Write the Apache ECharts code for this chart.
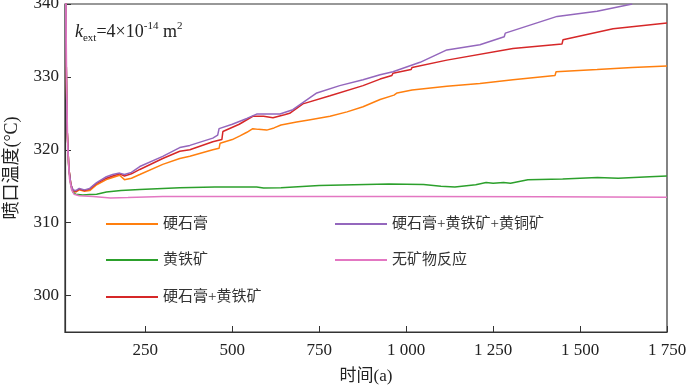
<!DOCTYPE html>
<html>
<head>
<meta charset="utf-8">
<script src="https://cdn.jsdelivr.net/npm/echarts@6/dist/echarts.min.js"></script>
<style>
  html, body { margin: 0; padding: 0; background: #fff; }
  #main { width: 700px; height: 385px; }
</style>
</head>
<body>
<div id="main"></div>
<script>
// 各曲线数据 [时间(a), 喷口温度(°C)]
const anhydrite = [[20, 352], [22, 334], [25, 323], [30, 317.5], [36, 315.2], [42, 314.4], [50, 314.2], [60, 314.5], [75, 314.3], [90, 314.4], [110, 315.2], [138, 315.9], [156, 316.2], [176, 316.5], [190, 315.9], [210, 316.1], [234, 316.6], [300, 318.0], [349, 318.8], [378, 319.1], [444, 320.0], [462, 320.2], [465, 320.9], [500, 321.4], [522, 321.9], [542, 322.4], [559, 322.9], [575, 322.8], [599, 322.7], [620, 323.0], [640, 323.4], [685, 323.8], [720, 324.1], [781, 324.6], [830, 325.2], [876, 325.9], [925, 326.9], [965, 327.5], [974, 327.8], [1017, 328.2], [1117, 328.7], [1212, 329.1], [1307, 329.6], [1428, 330.2], [1431, 330.7], [1549, 331.0], [1650, 331.3], [1750, 331.5]]
const pyrite = [[20, 352], [22, 334], [25, 323], [30, 317.3], [36, 315], [42, 314.2], [50, 313.9], [70, 313.8], [90, 313.85], [110, 313.9], [138, 314.2], [180, 314.4], [234, 314.55], [300, 314.7], [349, 314.8], [450, 314.9], [570, 314.9], [590, 314.75], [640, 314.8], [750, 315.1], [850, 315.2], [950, 315.3], [1050, 315.25], [1100, 315.0], [1140, 314.9], [1200, 315.2], [1230, 315.5], [1250, 315.4], [1280, 315.5], [1300, 315.4], [1350, 315.9], [1450, 316.0], [1550, 316.2], [1610, 316.1], [1700, 316.3], [1750, 316.4]]
const anhyPyrite = [[20, 352], [22, 334], [25, 323], [30, 317.5], [36, 315.2], [42, 314.4], [50, 314.3], [60, 314.6], [75, 314.4], [90, 314.6], [110, 315.4], [138, 316.1], [156, 316.4], [176, 316.7], [190, 316.4], [210, 316.7], [234, 317.3], [300, 318.8], [349, 319.8], [378, 320.0], [444, 321.1], [470, 321.4], [473, 322.5], [520, 323.5], [559, 324.6], [590, 324.6], [617, 324.4], [650, 324.8], [665, 325.0], [703, 326.3], [781, 327.4], [876, 328.8], [925, 329.7], [959, 330.2], [962, 330.5], [1014, 331.0], [1017, 331.3], [1117, 332.3], [1307, 333.9], [1448, 334.5], [1451, 335.1], [1595, 336.6], [1750, 337.4]]
const anhyPyriteChalco = [[20, 352], [22, 334], [25, 323], [30, 317.5], [36, 315.2], [42, 314.5], [50, 314.4], [60, 314.7], [75, 314.5], [90, 314.7], [110, 315.5], [138, 316.3], [156, 316.6], [176, 316.8], [190, 316.6], [210, 316.9], [234, 317.7], [300, 319.1], [349, 320.3], [378, 320.6], [444, 321.6], [458, 322.0], [462, 322.9], [500, 323.5], [542, 324.3], [570, 324.9], [637, 324.9], [674, 325.5], [743, 327.8], [809, 328.8], [876, 329.6], [925, 330.3], [962, 330.7], [1040, 332.0], [1117, 333.7], [1212, 334.4], [1282, 335.5], [1285, 336.0], [1434, 338.3], [1549, 339.0], [1650, 340.0]]
const noReaction = [[20, 355], [22, 338], [24, 328], [27, 320], [32, 316], [38, 314.5], [45, 313.9], [60, 313.7], [100, 313.6], [150, 313.4], [200, 313.45], [300, 313.6], [600, 313.6], [1000, 313.6], [1400, 313.55], [1750, 313.5]]

const xTicks = [250, 500, 750, 1000, 1250, 1500, 1750]
const yTicks = [300, 310, 320, 330, 340]

const fontFamily = '"Liberation Serif", "Noto Sans CJK SC", serif'

let chart = echarts.init(document.getElementById('main'))

// 每个图例单独放，方便定位
function oneLegend(name, left, top) {
  return {
    data: [name],
    left: left,
    top: top,
    icon: 'rect',
    itemWidth: 52,
    itemHeight: 2,
    itemGap: 0,
    selectedMode: false,
    textStyle: { fontFamily: fontFamily, fontSize: 15, color: '#333', lineHeight: 18 }
  }
}

function lineSeries(name, data, color) {
  return {
    name: name,
    type: 'line',
    data: data,
    showSymbol: false,
    symbol: 'none',
    clip: true,
    lineStyle: { color: color, width: 1.5 },
    itemStyle: { color: color },
    animation: false
  }
}

const option = {
  animation: false,
  grid: {
    left: 65, right: 33, top: 4, bottom: 53,
    containLabel: false, outerBoundsMode: 'none',
    show: true, borderColor: '#333', borderWidth: 1.2
  },
  legend: [
    oneLegend('硬石膏', 101, 210),
    oneLegend('黄铁矿', 101, 246),
    oneLegend('硬石膏+黄铁矿', 101, 283),
    oneLegend('硬石膏+黄铁矿+黄铜矿', 330, 210),
    oneLegend('无矿物反应', 330, 246)
  ],
  graphic: [{
    type: 'text',
    left: 75,
    top: 21,
    style: {
      text: '{k|k}{sub|ext}{n|=4×10}{sup|-14}{n| m}{sup|2}',
      fill: '#222',
      rich: {
        k: { fontFamily: fontFamily, fontSize: 18, fontStyle: 'italic', lineHeight: 23 },
        n: { fontFamily: fontFamily, fontSize: 18, lineHeight: 23 },
        sub: { fontFamily: fontFamily, fontSize: 11, verticalAlign: 'bottom', lineHeight: 23 },
        sup: { fontFamily: fontFamily, fontSize: 11, verticalAlign: 'top', lineHeight: 23 }
      }
    }
  }],
  xAxis: {
    type: 'value',
    min: 19,
    max: 1750,
    name: '时间(a)',
    nameLocation: 'middle',
    nameGap: 36,
    nameTextStyle: { fontFamily: fontFamily, fontSize: 17, color: '#222' },
    axisLine: { lineStyle: { color: '#333', width: 1.2 } },
    axisTick: { inside: true, length: 6, customValues: xTicks, lineStyle: { color: '#333' } },
    axisLabel: {
      customValues: xTicks,
      margin: 10,
      fontFamily: fontFamily,
      fontSize: 17,
      color: '#222',
      formatter: v => v >= 1000 ? Math.floor(v / 1000) + ' ' + String(v % 1000).padStart(3, '0') : String(v)
    },
    splitLine: { show: false }
  },
  yAxis: {
    type: 'value',
    min: 295,
    max: 340,
    name: '喷口温度(°C)',
    nameLocation: 'middle',
    nameGap: 44,
    nameTextStyle: { fontFamily: fontFamily, fontSize: 18, color: '#222' },
    axisLine: { lineStyle: { color: '#333', width: 1.2 } },
    axisTick: { inside: true, length: 6, customValues: yTicks, lineStyle: { color: '#333' } },
    axisLabel: { customValues: yTicks, margin: 6, fontFamily: fontFamily, fontSize: 17, color: '#222' },
    splitLine: { show: false }
  },
  series: [
    lineSeries('硬石膏', anhydrite, '#ff7f0e'),
    lineSeries('黄铁矿', pyrite, '#2ca02c'),
    lineSeries('硬石膏+黄铁矿', anhyPyrite, '#d62728'),
    lineSeries('硬石膏+黄铁矿+黄铜矿', anhyPyriteChalco, '#9467bd'),
    lineSeries('无矿物反应', noReaction, '#e377c2')
  ]
}

chart.setOption(option)
</script>
</body>
</html>
